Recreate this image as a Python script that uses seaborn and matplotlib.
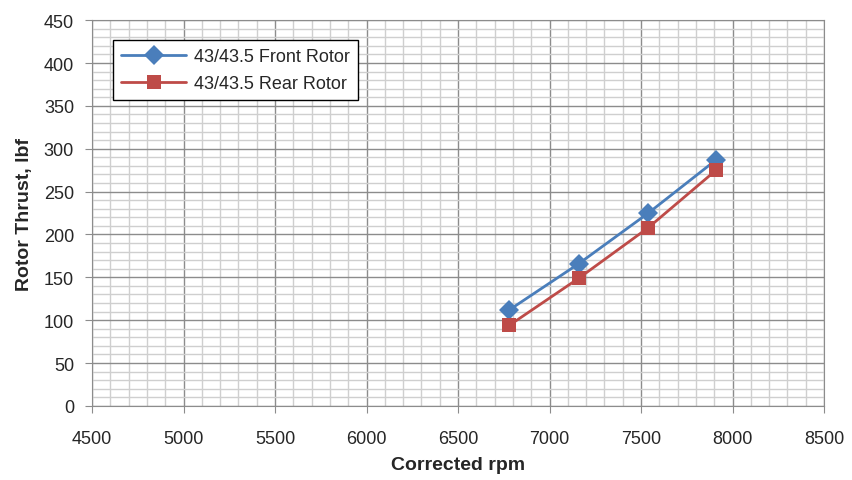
import seaborn as sns
import matplotlib.pyplot as plt
import pandas as pd
from matplotlib.ticker import MultipleLocator

rpm = [6780, 7160, 7540, 7910]
front_thrust = [112, 166, 225, 287]
rear_thrust = [94, 149, 208, 275]

df = pd.DataFrame({
    'rpm': rpm * 2,
    'thrust': front_thrust + rear_thrust,
    'rotor': ['43/43.5 Front Rotor'] * 4 + ['43/43.5 Rear Rotor'] * 4,
})

sns.set_style('white')
plt.rcParams['font.family'] = ['Liberation Sans', 'DejaVu Sans']

fig = plt.figure(figsize=(8.53, 4.81), dpi=100)
ax = fig.add_axes([0.108, 0.154, 0.858, 0.802])

sns.lineplot(data=df, x='rpm', y='thrust', hue='rotor', style='rotor',
             markers={'43/43.5 Front Rotor': 'D', '43/43.5 Rear Rotor': 's'},
             dashes=False, palette=['#4a7ebb', '#be4b48'],
             markersize=10, linewidth=2, markeredgewidth=0, ax=ax)

ax.set_xlim(4500, 8500)
ax.set_ylim(0, 450)
ax.xaxis.set_major_locator(MultipleLocator(500))
ax.xaxis.set_minor_locator(MultipleLocator(100))
ax.yaxis.set_major_locator(MultipleLocator(50))
ax.yaxis.set_minor_locator(MultipleLocator(10))
ax.grid(which='major', color='#8c8c8c', linewidth=1)
ax.grid(which='minor', color='#cfcfcf', linewidth=1)
ax.set_axisbelow(True)
for s in ax.spines.values():
    s.set_color('#8c8c8c')
ax.tick_params(which='major', direction='out', length=5, color='#8c8c8c',
               labelsize=13, colors='#262626', bottom=True, left=True)
ax.tick_params(axis='x', pad=12)
ax.tick_params(axis='y', pad=8)
ax.tick_params(which='minor', length=0)

ax.set_xlabel('Corrected rpm', fontsize=14, fontweight='bold', color='#262626', labelpad=7)
ax.set_ylabel('Rotor Thrust, lbf', fontsize=14, fontweight='bold', color='#262626', labelpad=8)

leg = ax.legend(loc='upper left', bbox_to_anchor=(0.029, 0.948), borderaxespad=0,
                fontsize=13, frameon=True, fancybox=False, edgecolor='black',
                framealpha=1, handlelength=3.6, handletextpad=0.4,
                borderpad=0.45, labelspacing=0.55)
leg.get_frame().set_linewidth(1)

fig.savefig('out.png', dpi=100)
